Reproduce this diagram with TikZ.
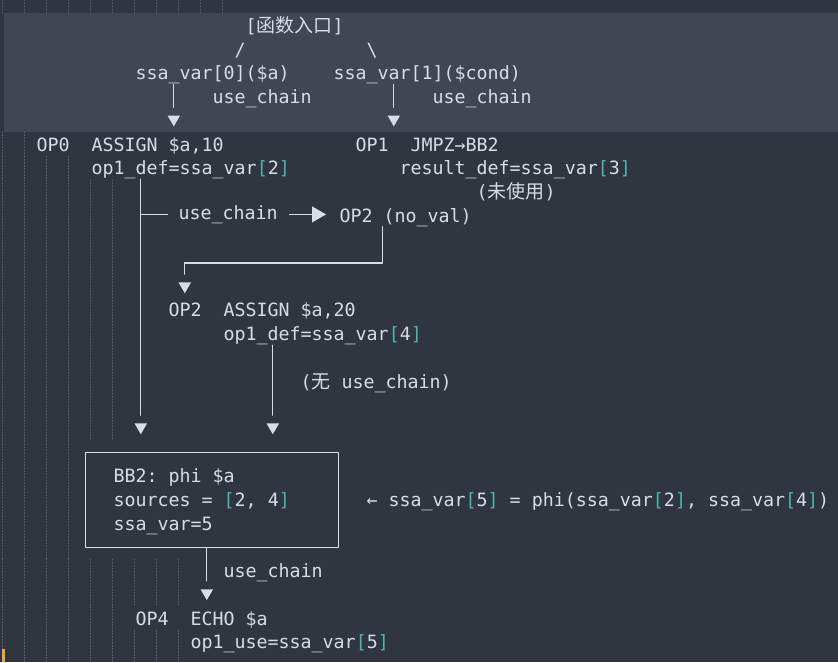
\documentclass[tikz,border=0pt]{standalone}
\usepackage{fontspec}
\setmonofont{DejaVu Sans Mono}
\newfontfamily\cjk{Noto Sans CJK SC}
\usetikzlibrary{shapes.geometric}
\definecolor{bgc}{HTML}{303640}
\definecolor{bandc}{HTML}{414752}
\definecolor{fgc}{HTML}{D7DCE6}
\definecolor{tealc}{HTML}{4FB3AA}
\definecolor{guidec}{HTML}{596070}
\definecolor{caretc}{HTML}{F2A444}
\newcommand{\zh}[1]{{\cjk\fontsize{19}{22}\selectfont #1}}
\newcommand{\vidx}[1]{{\color{tealc}[}#1{\color{tealc}]}}

\begin{document}
\begin{tikzpicture}[x=11pt,y=-23.7pt,line cap=round,line join=round,
    txt/.style={anchor=base west,inner sep=0pt,yshift=-6.5pt,text=fgc,font=\ttfamily\fontsize{18.3}{22}\selectfont},
    lbl/.style={inner sep=0pt,inner xsep=11pt,fill=bgc,text=fgc,font=\ttfamily\fontsize{18.3}{22}\selectfont},
    uselink/.style={draw=fgc,line width=1.25pt},
    headdown/.style={regular polygon,regular polygon sides=3,shape border rotate=180,fill=fgc,inner sep=0pt,minimum size=14.5pt},
    headright/.style={regular polygon,regular polygon sides=3,shape border rotate=270,fill=fgc,inner sep=0pt,minimum size=18.5pt},
    guide/.style={draw=guidec,line width=0.8pt,dash pattern=on 1pt off 2pt}]
\useasboundingbox (-0.3,-1.097) rectangle (75.88,26.835);
\fill[bgc] (-0.3,-1.097) rectangle (75.88,26.835);
\fill[bandc] (0.064,-0.5485) rectangle (75.88,4.46);
% indent guides
\foreach \ya/\yb/\n in {-1.097/-0.5485/20,4.46/5.5/2,5.5/6.5/6,6.5/17.5/10,17.5/22.5/6,22.5/24.5/16,24.5/25.5/10,25.5/26.835/16}
  \foreach \k in {0,2,...,\n}
    \draw[guide] (\k-0.09,\ya) -- (\k-0.09,\yb);
\fill[caretc] (-0.118,26.29) rectangle (0.155,26.835);
% entry
\node[txt] (entry) at (22,0) {[\zh{函数入口}]};
\node[txt] (sl) at (21,1) {/};
\node[txt] (bs) at (33,1) {\textbackslash};
\node[txt] (ssa0) at (12,2) {ssa\_var[0](\$a)};
\node[txt] (ssa1) at (30,2) {ssa\_var[1](\$cond)};
\node[txt] (uc0) at (19,3) {use\_chain};
\node[txt] (uc1) at (39,3) {use\_chain};
% ops
\node[txt] (op0) at (3,5) {OP0};
\node[txt] (op0a) at (8,5) {ASSIGN \$a,10};
\node[txt] (op1) at (32,5) {OP1};
\node[txt] (op1a) at (37,5) {JMPZ→BB2};
\node[txt] (op0def) at (8,6) {op1\_def=ssa\_var\vidx{2}};
\node[txt] (op1def) at (36,6) {result\_def=ssa\_var\vidx{3}};
\node[txt] (unused) at (43,7) {(\zh{未使用})};
\node[txt] (nov) at (30.55,8) {OP2 (no\_val)};
\node[txt] (op2) at (15,12) {OP2};
\node[txt] (op2a) at (20,12) {ASSIGN \$a,20};
\node[txt] (op2def) at (20,13) {op1\_def=ssa\_var\vidx{4}};
\node[txt] (nouse) at (27,15) {(\zh{无} use\_chain)};
% phi block
\node[draw=fgc,line width=1.25pt,minimum width=253pt,minimum height=94.8pt,inner sep=0pt] (bb) at (19,20) {};
\node[txt] (bbhead) at (10,19) {BB2: phi \$a};
\node[txt] (bbsrc) at (10,20) {sources = \vidx{2, 4}};
\node[txt] (bbvar) at (10,21) {ssa\_var=5};
\node[txt] (phinote) at (33,20) {← ssa\_var\vidx{5} = phi(ssa\_var\vidx{2}, ssa\_var\vidx{4})};
\node[txt] (uc2) at (20,23) {use\_chain};
\node[txt] (op4) at (12,25) {OP4};
\node[txt] (op4a) at (17,25) {ECHO \$a};
\node[txt] (op4use) at (17,26) {op1\_use=ssa\_var\vidx{5}};
% arrow heads
\node[headdown] (t0) at (15.5,3.93) {};
\node[headdown] (t1) at (35.5,3.93) {};
\node[headdown] (t2) at (12.5,16.92) {};
\node[headdown] (t3) at (24.5,16.92) {};
\node[headdown] (t4) at (16.5,10.97) {};
\node[headdown] (t5) at (18.5,23.92) {};
\node[headright] (tr) at (28.5,7.95) {};
% use chains
\draw[uselink,shorten >=8pt] (ssa0.south -| t0) -- (t0.north);
\draw[uselink,shorten >=8pt] (ssa1.south -| t1) -- (t1.north);
\draw[uselink,shorten >=8pt] (op0def.south -| t2) -- (t2.north);
\coordinate (br) at (12.5,7.95);
\draw[uselink] (br) -- node[lbl,pos=0.51] {use\_chain} (tr.west);
\coordinate (k) at (16.5,10);
\draw[uselink,shorten >=8pt] (nov.south -| 34.5,0) |- (k) -- (t4.north);
\draw[uselink,shorten >=8pt] (op2def.south -| t3) -- (t3.north);
\draw[uselink,shorten >=8pt] (bb.south -| t5) -- (t5.north);
\end{tikzpicture}
\end{document}
